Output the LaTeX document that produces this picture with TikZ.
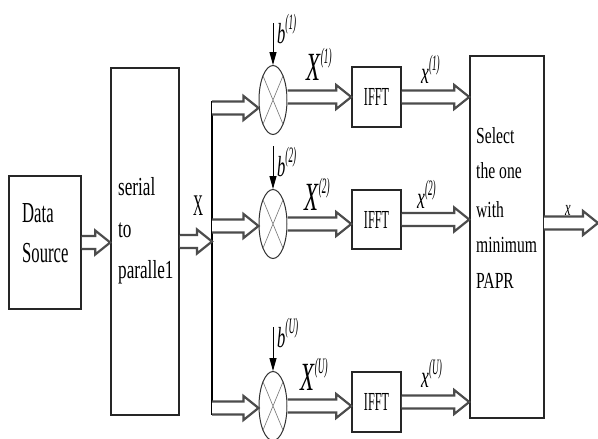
\documentclass[tikz,border=0pt]{standalone}
\usepackage{fontspec}
\setmainfont{Liberation Serif}
\usetikzlibrary{shapes.geometric,arrows.meta,calc}
\newcommand\sx[2]{\scalebox{#1}[1]{#2}}
\newcommand\lab[4]{\scalebox{.57}[1]{\fontsize{#1}{#1}\selectfont\textit{#2}}\raisebox{#4}{\scalebox{.42}[1]{\fontsize{22}{22}\selectfont\textit{(#3)}}}}
\newcommand\tds[1]{\sx{.575}{\fontsize{29}{29}\selectfont #1}}
\newcommand\tsp[1]{\sx{.66}{\fontsize{26}{26}\selectfont #1}}
\newcommand\tsel[1]{\sx{.68}{\fontsize{23}{23}\selectfont #1}}
\newcommand\tifft{\sx{.47}{\fontsize{26}{26}\selectfont IFFT}}
\begin{document}
\begin{tikzpicture}[x=1pt,y=-1pt,
  box/.style={draw=black!85, line width=1.6pt, inner sep=0pt},
  mult/.style={ellipse, draw=black!80, line width=1pt, minimum width=28pt, minimum height=69pt, inner sep=0pt},
  crossl/.style={draw=black!55, line width=0.6pt},
  txt/.style={anchor=base west, inner sep=0pt},
  vline/.style={draw=black, line width=1.1pt},
  barr/.style={draw=black, line width=1pt, -{Triangle[length=13pt,width=7pt]}},
  fatbase/.style={draw=black!70, fill=white, line width=2.2pt, line join=miter},
  fat/.style={fatbase, to path={let \p1=(\tikztostart), \p2=(\tikztotarget) in
     (\x1,\y1+6.5pt) -- (\x2-15pt,\y1+6.5pt) -- (\x2-15pt,\y1+12pt) -- (\x2,\y1)
     -- (\x2-15pt,\y1-12pt) -- (\x2-15pt,\y1-6.5pt) -- (\x1,\y1-6.5pt)}},
  fatr/.style={fatbase, to path={let \p1=(\tikztostart), \p2=(\tikztotarget) in
     (\x1,\y2+6.5pt) -- (\x2-15pt,\y2+6.5pt) -- (\x2-15pt,\y2+12pt) -- (\x2,\y2)
     -- (\x2-15pt,\y2-12pt) -- (\x2-15pt,\y2-6.5pt) -- (\x1,\y2-6.5pt)}}
]
\useasboundingbox (0,0) rectangle (598,439);
\fill[white] (0,0) rectangle (598,439);

% boxes
\node[box, minimum width=72pt, minimum height=133pt] (ds) at (45,242.5) {};
\node[box, minimum width=68pt, minimum height=347pt] (sp) at (145,241.5) {};
\node[box, minimum width=74pt, minimum height=362pt] (sel) at (507,237) {};
\node[box, minimum width=49pt, minimum height=60pt] (i1) at (376.5,97) {\tifft};
\node[box, minimum width=49pt, minimum height=59pt] (i2) at (376.5,219.5) {\tifft};
\node[box, minimum width=49pt, minimum height=60pt] (i3) at (376.5,402) {\tifft};

% multipliers
\node[mult] (e1) at (273,100) {};
\node[mult] (e2) at (273,224) {};
\node[mult] (e3) at (273,406) {};
\foreach \e in {e1,e2,e3}{
  \draw[crossl] (\e.north west) -- (\e.south east) (\e.north east) -- (\e.south west);
}

% texts
\node[txt] (t1) at (22,222) {\tds{Data}};
\node[txt] (t2) at (22,262) {\tds{Source}};
\node[txt] (t3) at (118,195) {\tsp{serial}};
\node[txt] (t4) at (118,237) {\tsp{to}};
\node[txt] (t5) at (118,278) {\tsp{paralle1}};
\node[txt] (t6) at (476,143) {\tsel{Select}};
\node[txt] (t7) at (476,178) {\tsel{the one}};
\node[txt] (t8) at (476,217) {\tsel{with}};
\node[txt] (t9) at (476,252) {\tsel{minimum}};
\node[txt] (t10) at (476,288) {\tsel{PAPR}};
\node[txt] (lX) at (193,215) {\sx{.46}{\fontsize{30}{30}\selectfont X}};

% coordinates
\coordinate (vt) at (212,101);
\coordinate (vb) at (212,415);
\coordinate (vx) at (212,241);
\coordinate (b1s) at (212,108);
\coordinate (b2s) at (212,226);
\coordinate (b3s) at (212,408);
\coordinate (bt1) at (273,23);
\coordinate (bt2) at (273,146);
\coordinate (bt3) at (273,327);
\coordinate (outs) at (544,223);
\coordinate (oute) at (598,223);

% connectors
\draw[vline] (vt) -- (vb);
\draw[fat] (ds.east) to (sp.west);
\draw[fat] (sp.east) to (vx);
\draw[fat] (b1s) to (e1.west);
\draw[fat] (b2s) to (e2.west);
\draw[fat] (b3s) to (e3.west);
\draw[fatr] (e1.east) to (i1.west);
\draw[fat] (e2.east) to (i2.west);
\draw[fat] (e3.east) to (i3.west);
\draw[fat] (i1.east) to (sel.west);
\draw[fat] (i2.east) to (sel.west);
\draw[fat] (i3.east) to (sel.west);
\draw[fat] (outs) to (oute);
\draw[barr] (bt1) -- (e1.north);
\draw[barr] (bt2) -- (e2.north);
\draw[barr] (bt3) -- (e3.north);

% labels
\node[txt] (lb1) at (277,43) {\lab{29}{b}{1}{14pt}};
\node[txt] (lb2) at (277,176) {\lab{29}{b}{2}{14pt}};
\node[txt] (lb3) at (277,347) {\lab{29}{b}{U}{14pt}};
\node[txt] (lX1) at (306,80) {\lab{40}{X}{1}{17pt}};
\node[txt] (lX2) at (304,210) {\lab{40}{X}{2}{17pt}};
\node[txt] (lX3) at (300,390) {\lab{40}{X}{U}{17pt}};
\node[txt] (lx1) at (421,83) {\lab{31}{x}{1}{13pt}};
\node[txt] (lx2) at (417,208) {\lab{31}{x}{2}{13pt}};
\node[txt] (lx3) at (421,387) {\lab{31}{x}{U}{13pt}};
\node[txt] (lout) at (565,215) {\sx{.57}{\fontsize{22}{22}\selectfont\textit{x}}};
\end{tikzpicture}
\end{document}
